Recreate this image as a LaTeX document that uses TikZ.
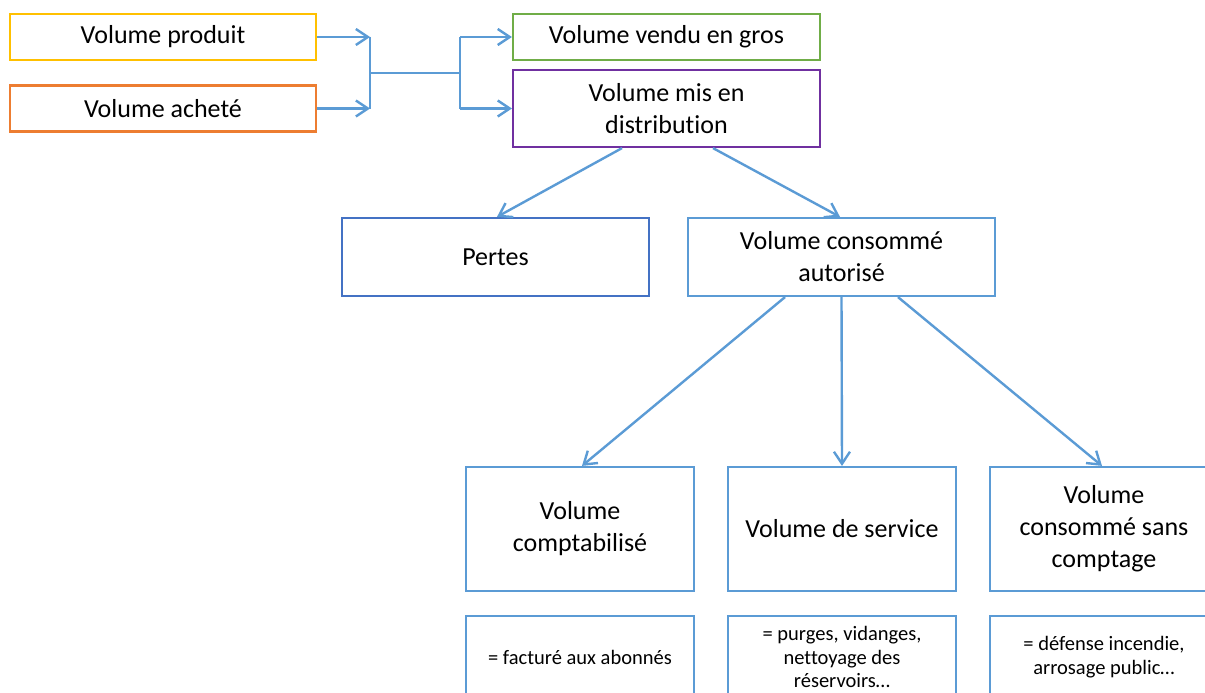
\documentclass[tikz,border=0pt]{standalone}
\usepackage{fontspec}
\setmainfont{Carlito}[Ligatures=NoCommon]
\usepackage{xcolor}
\usetikzlibrary{positioning,calc,arrows.meta}

\definecolor{flowblue}{HTML}{5B9BD5}
\definecolor{prodyellow}{HTML}{FFC000}
\definecolor{achorange}{HTML}{ED7D31}
\definecolor{grosgreen}{HTML}{70AD47}
\definecolor{distpurple}{HTML}{7030A0}
\definecolor{pertesblue}{HTML}{4472C4}

\tikzset{
  box/.style={draw, line width=2.2pt, fill=white, align=center, inner sep=0pt,
    font=\fontsize{26}{32}\selectfont},
  notebox/.style={box, line width=1.6pt, font=\fontsize{20.5}{23.5}\selectfont},
  flow/.style={draw=flowblue, line width=2.4pt},
  flowarrow/.style={flow, -{Straight Barb[length=12pt,width=16pt,line width=2.4pt]}}
}

\begin{document}
\begin{tikzpicture}[x=1pt,y=-1pt]
        \clip (0,0) rectangle (1205,693);

        % Inputs
        \node[box, draw=prodyellow, minimum width=306, minimum height=46] (prod) at (163,37) {Volume produit};
        \node[box, draw=achorange, minimum width=306, minimum height=46] (ach) at (163,108.5) {Volume achet\'e};

        % Outputs
        \node[box, draw=grosgreen, minimum width=307, minimum height=46] (gros) at (666.5,37) {Volume vendu en gros};
        \node[box, draw=distpurple, minimum width=307, minimum height=77] (dist) at (666.5,108.5) {Volume mis en\\distribution};

        % Junction
        \coordinate (jl) at (370,73);
        \coordinate (jr) at (460,73);
        \draw[flowarrow] (prod.east) -- (jl |- prod.east);
        \draw[flowarrow] (ach.east) -- (jl |- ach.east);
        \draw[flow] (jl |- prod.east) -- (jl |- ach.east);
        \draw[flow] (jl) -- (jr);
        \draw[flow] (jr |- gros.west) -- (jr |- dist.west);
        \draw[flowarrow] (jr |- gros.west) -- (gros.west);
        \draw[flowarrow] (jr |- dist.west) -- (dist.west);

        % Second level
        \node[box, draw=pertesblue, minimum width=307, minimum height=78] (pertes) at (495.5,257) {Pertes};
        \node[box, draw=flowblue, minimum width=307, minimum height=78] (auto) at (841.5,257) {Volume consomm\'e\\autoris\'e};
        \draw[flowarrow] ([xshift=-44.5]dist.south) -- ([xshift=1.5]pertes.north);
        \draw[flowarrow] ([xshift=46.5]dist.south) -- ([xshift=-1.5]auto.north);

        % Third level
        \node[box, draw=flowblue, minimum width=228, minimum height=124] (compt) at (580,529) {Volume\\comptabilis\'e};
        \node[box, draw=flowblue, minimum width=228, minimum height=124] (serv) at (842,529) {Volume de service};
        \node[box, draw=flowblue, minimum width=228, minimum height=124] (sans) at (1104,529) {Volume\\consomm\'e sans\\comptage};
        \draw[flowarrow] ([xshift=-56.5]auto.south) -- ([xshift=2]compt.north);
        \draw[flowarrow] (auto.south) -- (serv.north);
        \draw[flowarrow] ([xshift=56.5]auto.south) -- ([xshift=-2]sans.north);

        % Notes
        \node[notebox, draw=flowblue, minimum width=228, minimum height=82] (ncompt) at (580,657) {= factur\'e aux abonn\'es};
        \node[notebox, draw=flowblue, minimum width=228, minimum height=82] (nserv) at (842,657) {= purges, vidanges,\\nettoyage des\\r\'eservoirs\dots};
        \node[notebox, draw=flowblue, minimum width=228, minimum height=82] (nsans) at (1104,657) {= d\'efense incendie,\\arrosage public\dots};
    \end{tikzpicture}
\end{document}
